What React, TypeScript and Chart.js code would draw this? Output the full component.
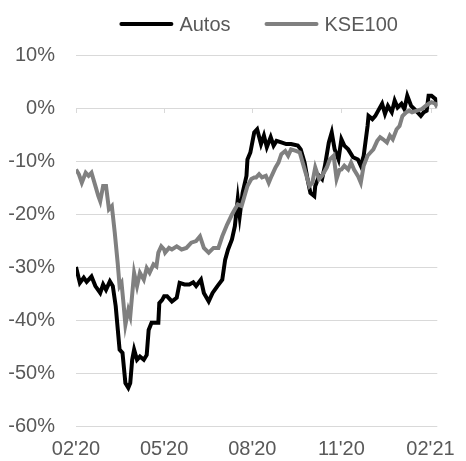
import React, { useEffect, useRef } from "react";
import { Chart, registerables } from "chart.js";

Chart.register(...registerables);

// Days since 1 Feb 2020
const autosDays = [0, 4, 8, 11, 16, 20, 25, 28, 31, 35, 38, 41, 45, 48, 51, 54, 56, 58, 60, 63, 66, 70, 73, 75, 78, 81, 85, 86, 89, 91, 94, 99, 104, 107, 112, 117, 121, 124, 129, 132, 137, 141, 146, 151, 154, 157, 161, 164, 167, 169, 172, 176, 177, 180, 184, 187, 191, 194, 197, 201, 204, 207, 212, 217, 222, 229, 232, 236, 239, 242, 246, 247, 251, 254, 257, 261, 264, 267, 271, 274, 277, 281, 286, 291, 294, 297, 301, 302, 306, 309, 312, 316, 319, 322, 326, 329, 332, 336, 339, 342, 346, 351, 356, 359, 362, 364, 367, 371, 373];
const autosValues = [-30, -33, -32, -32.8, -31.8, -33.6, -34.9, -33.3, -34.3, -32.7, -33.6, -37.4, -45.6, -46.2, -51.9, -52.8, -51.9, -47.5, -45.6, -47.5, -46.9, -47.5, -46.6, -41.9, -40.5, -40.5, -40.5, -36.8, -36.2, -35.5, -35.5, -36.5, -35.8, -33.0, -33.3, -33.3, -32.9, -33.6, -32.4, -34.9, -36.5, -34.9, -33.6, -32.4, -28.6, -26.7, -24.8, -22.3, -17.2, -20.4, -16.0, -12.8, -9.7, -8.4, -4.6, -4.0, -6.8, -5.2, -7.4, -5.5, -7.1, -6.2, -6.5, -6.8, -6.8, -7.1, -7.8, -10.3, -13.4, -16.0, -16.6, -14.7, -12.8, -13.4, -10.9, -6.5, -4.6, -7.8, -9.7, -5.9, -7.1, -7.8, -9.3, -9.7, -10.9, -9.0, -3.4, -1.5, -2.1, -1.5, -0.5, 0.8, -1.1, 0.4, -0.8, 1.4, 0.1, 0.8, -0.2, 2.3, 0.4, -0.5, -1.5, -0.8, -0.5, 2.3, 2.3, 1.7, 0.4];

const kseDays = [0, 3, 6, 10, 13, 16, 20, 23, 25, 28, 31, 34, 37, 40, 43, 45, 47, 49, 51, 54, 56, 60, 63, 66, 70, 73, 76, 80, 83, 85, 88, 91, 92, 96, 99, 104, 109, 114, 119, 124, 128, 132, 137, 142, 147, 151, 156, 161, 164, 167, 171, 174, 177, 181, 184, 186, 189, 192, 196, 199, 202, 206, 209, 212, 216, 219, 222, 227, 231, 234, 237, 241, 244, 247, 251, 254, 259, 262, 266, 269, 272, 274, 277, 281, 284, 287, 291, 294, 297, 301, 304, 307, 311, 314, 317, 321, 324, 327, 331, 334, 337, 341, 344, 347, 352, 357, 361, 364, 367, 371, 373];
const kseValues = [-11.6, -12.5, -14.1, -12.2, -12.8, -12.2, -14.7, -16.6, -17.6, -14.7, -14.7, -19.1, -18.5, -23.5, -29.2, -33.6, -33.0, -36.8, -40.9, -38.1, -39.3, -31.1, -33.6, -31.1, -32.4, -30.2, -31.1, -29.5, -29.9, -27.3, -26.1, -26.7, -27.3, -26.4, -26.7, -26.1, -26.7, -26.4, -25.4, -25.1, -24.2, -26.4, -27.3, -26.4, -26.4, -24.2, -22.0, -20.1, -19.1, -18.2, -18.5, -16.6, -14.7, -13.4, -13.1, -13.1, -12.5, -13.1, -12.8, -14.1, -12.8, -11.2, -10.3, -8.7, -8.1, -9.0, -7.8, -8.1, -8.4, -10.3, -12.2, -14.7, -14.1, -11.2, -13.4, -12.8, -11.2, -9.7, -9.0, -13.4, -11.7, -11.6, -10.9, -11.6, -10.3, -11.6, -12.8, -14.1, -10.9, -9.0, -8.4, -7.8, -6.2, -5.5, -5.9, -6.5, -5.2, -5.9, -4.0, -3.4, -1.5, -0.8, -0.5, -0.8, -0.5, -0.2, 0.4, 0.8, 1.1, 0.8, 0.1];

const tickDays = [0, 91, 182, 274, 366];
const tickLabels = ["02'20", "05'20", "08'20", "11'20", "02'21"];
const seriesNames = ["Autos", "KSE100"];

const FONT = 'Arial, "Liberation Sans", sans-serif';
const TEXT = "#595959";
const GRID = "#d9d9d9";

const legendPlugin = {
  id: "customLegend",
  afterDraw(chart: any) {
    const ctx = chart.ctx;
    const area = chart.chartArea;
    ctx.save();
    ctx.font = `20px ${FONT}`;
    ctx.textBaseline = "middle";
    ctx.textAlign = "left";
    const lineW = 54;
    const gapText = 6;
    const gapItem = 34;
    const items = chart.data.datasets.map((d: any) => ({
      text: d.label,
      color: d.borderColor,
      w: lineW + gapText + ctx.measureText(d.label).width,
    }));
    const total = items.reduce((s: number, it: any) => s + it.w, 0) + gapItem * (items.length - 1);
    let x = (area.left + area.right) / 2 - total / 2 + 2;
    const y = 24;
    items.forEach((it: any) => {
      ctx.strokeStyle = it.color;
      ctx.lineWidth = 4;
      ctx.lineCap = "round";
      ctx.beginPath();
      ctx.moveTo(x + 2, y);
      ctx.lineTo(x + lineW - 2, y);
      ctx.stroke();
      ctx.fillStyle = TEXT;
      ctx.fillText(it.text, x + lineW + gapText, y + 1);
      x += it.w + gapItem;
    });
    ctx.restore();
  },
};

const zeroTicksPlugin = {
  id: "zeroTicks",
  beforeDatasetsDraw(chart: any) {
    const ctx = chart.ctx;
    const xs = chart.scales.x;
    const ys = chart.scales.y;
    const y0 = ys.getPixelForValue(0);
    ctx.save();
    ctx.strokeStyle = GRID;
    ctx.lineWidth = 1;
    tickDays.forEach((d) => {
      const px = Math.round(xs.getPixelForValue(d)) + 0.5;
      ctx.beginPath();
      ctx.moveTo(px, y0);
      ctx.lineTo(px, y0 + 5);
      ctx.stroke();
    });
    ctx.restore();
  },
};

export default function App() {
  const ref = useRef<HTMLCanvasElement | null>(null);
  useEffect(() => {
    if (!ref.current) return;
    const chart = new Chart(ref.current, {
      type: "line",
      data: {
        datasets: [
          {
            label: seriesNames[0],
            data: autosDays.map((d, i) => ({ x: d, y: autosValues[i] })),
            borderColor: "#000000",
            backgroundColor: "#000000",
            borderWidth: 4,
            pointRadius: 0,
            tension: 0,
            order: 1,
          },
          {
            label: seriesNames[1],
            data: kseDays.map((d, i) => ({ x: d, y: kseValues[i] })),
            borderColor: "#808080",
            backgroundColor: "#808080",
            borderWidth: 4,
            pointRadius: 0,
            tension: 0,
            order: 0,
          },
        ],
      },
      options: {
        responsive: false,
        animation: false,
        layout: { padding: { top: 55, right: 17, bottom: 0, left: 0 } },
        plugins: {
          legend: { display: false },
          tooltip: { enabled: false },
        },
        scales: {
          x: {
            type: "linear",
            min: 0,
            max: 373,
            afterBuildTicks: (scale: any) => {
              scale.ticks = tickDays.map((v) => ({ value: v }));
            },
            afterFit: (scale: any) => {
              scale.height = 35;
            },
            ticks: {
              autoSkip: false,
              maxRotation: 0,
              padding: 11,
              color: TEXT,
              font: { family: FONT, size: 20 },
              callback: (v: any, i: number) => tickLabels[i],
            },
            grid: { display: false, drawTicks: false },
            border: { display: false },
          },
          y: {
            min: -60,
            max: 10,
            afterFit: (scale: any) => {
              scale.width = 76;
            },
            ticks: {
              stepSize: 10,
              padding: 21,
              color: TEXT,
              font: { family: FONT, size: 20 },
              callback: (v: any) => `${v}%`,
            },
            grid: { color: GRID, lineWidth: 1, drawTicks: false },
            border: { display: false },
          },
        },
      },
      plugins: [legendPlugin, zeroTicksPlugin],
    });
    return () => chart.destroy();
  }, []);
  return (
    <div style={{ position: "absolute", left: 0, top: 0, width: 466, height: 461, background: "#fff" }}>
      <canvas ref={ref} width={466} height={461} />
    </div>
  );
}
